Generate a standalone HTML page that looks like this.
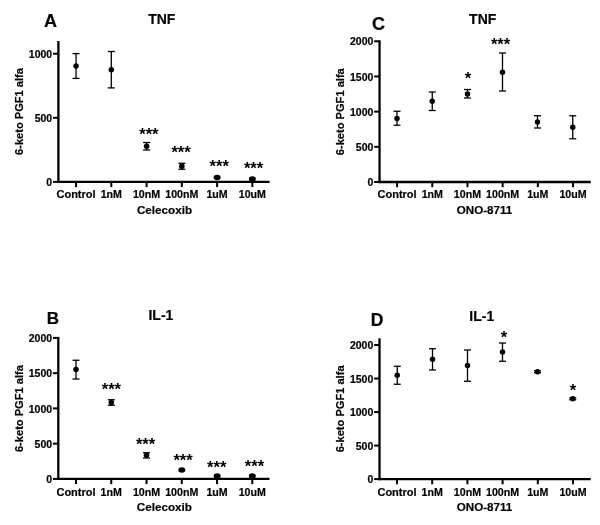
<!DOCTYPE html>
<html><head><meta charset="utf-8"><title>Figure</title>
<style>
html,body{margin:0;padding:0;background:#fff;}
svg{display:block;}
text{font-family:"Liberation Sans", Arial, Helvetica, sans-serif;fill:#000;stroke:#000;stroke-width:0.2px;}
</style></head><body>
<svg width="600" height="525" viewBox="0 0 600 525">
<defs><filter id="soft" x="0" y="0" width="600" height="525" filterUnits="userSpaceOnUse"><feGaussianBlur stdDeviation="0.35"/></filter></defs>
<rect width="600" height="525" fill="#fff"/>
<g filter="url(#soft)">
<line x1="58.4" y1="41.0" x2="58.4" y2="183.0" stroke="#000" stroke-width="2.3" stroke-linecap="butt"/>
<line x1="57.3" y1="181.9" x2="269.59999999999997" y2="181.9" stroke="#000" stroke-width="2.3" stroke-linecap="butt"/>
<line x1="53.0" y1="181.9" x2="58.4" y2="181.9" stroke="#000" stroke-width="2.0" stroke-linecap="butt"/>
<text x="52.199999999999996" y="186.0" font-size="10.5" text-anchor="end" font-weight="bold">0</text>
<line x1="53.0" y1="117.8" x2="58.4" y2="117.8" stroke="#000" stroke-width="2.0" stroke-linecap="butt"/>
<text x="52.199999999999996" y="121.89999999999999" font-size="10.5" text-anchor="end" font-weight="bold">500</text>
<line x1="53.0" y1="53.7" x2="58.4" y2="53.7" stroke="#000" stroke-width="2.0" stroke-linecap="butt"/>
<text x="52.199999999999996" y="57.800000000000004" font-size="10.5" text-anchor="end" font-weight="bold">1000</text>
<line x1="76.05" y1="181.9" x2="76.05" y2="187.1" stroke="#000" stroke-width="2.0" stroke-linecap="butt"/>
<text x="76.05" y="198.35" font-size="11.0" text-anchor="middle" font-weight="bold">Control</text>
<line x1="111.31" y1="181.9" x2="111.31" y2="187.1" stroke="#000" stroke-width="2.0" stroke-linecap="butt"/>
<text x="111.31" y="198.35" font-size="10.65" text-anchor="middle" font-weight="bold">1nM</text>
<line x1="146.57" y1="181.9" x2="146.57" y2="187.1" stroke="#000" stroke-width="2.0" stroke-linecap="butt"/>
<text x="146.57" y="198.35" font-size="10.65" text-anchor="middle" font-weight="bold">10nM</text>
<line x1="181.82999999999998" y1="181.9" x2="181.82999999999998" y2="187.1" stroke="#000" stroke-width="2.0" stroke-linecap="butt"/>
<text x="181.82999999999998" y="198.35" font-size="10.65" text-anchor="middle" font-weight="bold">100nM</text>
<line x1="217.08999999999997" y1="181.9" x2="217.08999999999997" y2="187.1" stroke="#000" stroke-width="2.0" stroke-linecap="butt"/>
<text x="217.08999999999997" y="198.35" font-size="10.65" text-anchor="middle" font-weight="bold">1uM</text>
<line x1="252.34999999999997" y1="181.9" x2="252.34999999999997" y2="187.1" stroke="#000" stroke-width="2.0" stroke-linecap="butt"/>
<text x="252.34999999999997" y="198.35" font-size="10.65" text-anchor="middle" font-weight="bold">10uM</text>
<text x="164.5" y="213.9" font-size="11.7" text-anchor="middle" font-weight="bold">Celecoxib</text>
<text transform="translate(22.6,111.5) rotate(-90)" font-size="11.1" font-weight="bold" text-anchor="middle">6-keto PGF1 alfa</text>
<line x1="76.05" y1="53.6" x2="76.05" y2="78.4" stroke="#000" stroke-width="1.3" stroke-linecap="butt"/>
<line x1="72.55" y1="53.6" x2="79.55" y2="53.6" stroke="#000" stroke-width="1.3" stroke-linecap="butt"/>
<line x1="72.55" y1="78.4" x2="79.55" y2="78.4" stroke="#000" stroke-width="1.3" stroke-linecap="butt"/>
<circle cx="76.05" cy="66" r="2.75" fill="#000"/>
<line x1="111.3" y1="51.5" x2="111.3" y2="87.9" stroke="#000" stroke-width="1.3" stroke-linecap="butt"/>
<line x1="107.8" y1="51.5" x2="114.8" y2="51.5" stroke="#000" stroke-width="1.3" stroke-linecap="butt"/>
<line x1="107.8" y1="87.9" x2="114.8" y2="87.9" stroke="#000" stroke-width="1.3" stroke-linecap="butt"/>
<circle cx="111.3" cy="69.75" r="2.75" fill="#000"/>
<line x1="146.6" y1="142.5" x2="146.6" y2="150" stroke="#000" stroke-width="1.3" stroke-linecap="butt"/>
<line x1="143.1" y1="142.5" x2="150.1" y2="142.5" stroke="#000" stroke-width="1.3" stroke-linecap="butt"/>
<line x1="143.1" y1="150" x2="150.1" y2="150" stroke="#000" stroke-width="1.3" stroke-linecap="butt"/>
<circle cx="146.6" cy="146.25" r="2.75" fill="#000"/>
<line x1="181.85" y1="163.25" x2="181.85" y2="169.25" stroke="#000" stroke-width="1.3" stroke-linecap="butt"/>
<line x1="178.35" y1="163.25" x2="185.35" y2="163.25" stroke="#000" stroke-width="1.3" stroke-linecap="butt"/>
<line x1="178.35" y1="169.25" x2="185.35" y2="169.25" stroke="#000" stroke-width="1.3" stroke-linecap="butt"/>
<circle cx="181.85" cy="166.25" r="2.75" fill="#000"/>
<ellipse cx="217.1" cy="177.4" rx="3.5" ry="2.75" fill="#000"/>
<ellipse cx="252.35" cy="178.9" rx="3.5" ry="2.75" fill="#000"/>
<line x1="58.3" y1="336.9" x2="58.3" y2="480.0" stroke="#000" stroke-width="2.3" stroke-linecap="butt"/>
<line x1="57.199999999999996" y1="478.9" x2="269.5" y2="478.9" stroke="#000" stroke-width="2.3" stroke-linecap="butt"/>
<line x1="52.9" y1="478.9" x2="58.3" y2="478.9" stroke="#000" stroke-width="2.0" stroke-linecap="butt"/>
<text x="52.099999999999994" y="483.0" font-size="10.5" text-anchor="end" font-weight="bold">0</text>
<line x1="52.9" y1="443.65" x2="58.3" y2="443.65" stroke="#000" stroke-width="2.0" stroke-linecap="butt"/>
<text x="52.099999999999994" y="447.75" font-size="10.5" text-anchor="end" font-weight="bold">500</text>
<line x1="52.9" y1="408.4" x2="58.3" y2="408.4" stroke="#000" stroke-width="2.0" stroke-linecap="butt"/>
<text x="52.099999999999994" y="412.5" font-size="10.5" text-anchor="end" font-weight="bold">1000</text>
<line x1="52.9" y1="373.15" x2="58.3" y2="373.15" stroke="#000" stroke-width="2.0" stroke-linecap="butt"/>
<text x="52.099999999999994" y="377.25" font-size="10.5" text-anchor="end" font-weight="bold">1500</text>
<line x1="52.9" y1="337.9" x2="58.3" y2="337.9" stroke="#000" stroke-width="2.0" stroke-linecap="butt"/>
<text x="52.099999999999994" y="342.0" font-size="10.5" text-anchor="end" font-weight="bold">2000</text>
<line x1="76.0" y1="478.9" x2="76.0" y2="484.09999999999997" stroke="#000" stroke-width="2.0" stroke-linecap="butt"/>
<text x="76.0" y="495.6" font-size="11.0" text-anchor="middle" font-weight="bold">Control</text>
<line x1="111.25999999999999" y1="478.9" x2="111.25999999999999" y2="484.09999999999997" stroke="#000" stroke-width="2.0" stroke-linecap="butt"/>
<text x="111.25999999999999" y="495.6" font-size="10.65" text-anchor="middle" font-weight="bold">1nM</text>
<line x1="146.51999999999998" y1="478.9" x2="146.51999999999998" y2="484.09999999999997" stroke="#000" stroke-width="2.0" stroke-linecap="butt"/>
<text x="146.51999999999998" y="495.6" font-size="10.65" text-anchor="middle" font-weight="bold">10nM</text>
<line x1="181.78" y1="478.9" x2="181.78" y2="484.09999999999997" stroke="#000" stroke-width="2.0" stroke-linecap="butt"/>
<text x="181.78" y="495.6" font-size="10.65" text-anchor="middle" font-weight="bold">100nM</text>
<line x1="217.04" y1="478.9" x2="217.04" y2="484.09999999999997" stroke="#000" stroke-width="2.0" stroke-linecap="butt"/>
<text x="217.04" y="495.6" font-size="10.65" text-anchor="middle" font-weight="bold">1uM</text>
<line x1="252.29999999999998" y1="478.9" x2="252.29999999999998" y2="484.09999999999997" stroke="#000" stroke-width="2.0" stroke-linecap="butt"/>
<text x="252.29999999999998" y="495.6" font-size="10.65" text-anchor="middle" font-weight="bold">10uM</text>
<text x="164.39999999999998" y="511.2" font-size="11.7" text-anchor="middle" font-weight="bold">Celecoxib</text>
<text transform="translate(22.5,408.6) rotate(-90)" font-size="11.1" font-weight="bold" text-anchor="middle">6-keto PGF1 alfa</text>
<line x1="76.0" y1="360.25" x2="76.0" y2="379" stroke="#000" stroke-width="1.3" stroke-linecap="butt"/>
<line x1="72.5" y1="360.25" x2="79.5" y2="360.25" stroke="#000" stroke-width="1.3" stroke-linecap="butt"/>
<line x1="72.5" y1="379" x2="79.5" y2="379" stroke="#000" stroke-width="1.3" stroke-linecap="butt"/>
<circle cx="76.0" cy="369.5" r="2.75" fill="#000"/>
<line x1="111.3" y1="399.75" x2="111.3" y2="405.25" stroke="#000" stroke-width="1.3" stroke-linecap="butt"/>
<line x1="107.8" y1="399.75" x2="114.8" y2="399.75" stroke="#000" stroke-width="1.3" stroke-linecap="butt"/>
<line x1="107.8" y1="405.25" x2="114.8" y2="405.25" stroke="#000" stroke-width="1.3" stroke-linecap="butt"/>
<circle cx="111.3" cy="402.5" r="2.75" fill="#000"/>
<line x1="146.5" y1="452.75" x2="146.5" y2="458" stroke="#000" stroke-width="1.3" stroke-linecap="butt"/>
<line x1="143.0" y1="452.75" x2="150.0" y2="452.75" stroke="#000" stroke-width="1.3" stroke-linecap="butt"/>
<line x1="143.0" y1="458" x2="150.0" y2="458" stroke="#000" stroke-width="1.3" stroke-linecap="butt"/>
<circle cx="146.5" cy="455.25" r="2.75" fill="#000"/>
<ellipse cx="181.8" cy="470" rx="3.5" ry="2.75" fill="#000"/>
<ellipse cx="217.2" cy="475.9" rx="3.5" ry="2.75" fill="#000"/>
<ellipse cx="252.3" cy="475.9" rx="3.5" ry="2.75" fill="#000"/>
<line x1="379.55" y1="40.3" x2="379.55" y2="183.1" stroke="#000" stroke-width="2.3" stroke-linecap="butt"/>
<line x1="378.45" y1="182" x2="590.75" y2="182" stroke="#000" stroke-width="2.3" stroke-linecap="butt"/>
<line x1="374.15000000000003" y1="182.0" x2="379.55" y2="182.0" stroke="#000" stroke-width="2.0" stroke-linecap="butt"/>
<text x="373.35" y="186.1" font-size="10.5" text-anchor="end" font-weight="bold">0</text>
<line x1="374.15000000000003" y1="146.82" x2="379.55" y2="146.82" stroke="#000" stroke-width="2.0" stroke-linecap="butt"/>
<text x="373.35" y="150.92" font-size="10.5" text-anchor="end" font-weight="bold">500</text>
<line x1="374.15000000000003" y1="111.64" x2="379.55" y2="111.64" stroke="#000" stroke-width="2.0" stroke-linecap="butt"/>
<text x="373.35" y="115.74" font-size="10.5" text-anchor="end" font-weight="bold">1000</text>
<line x1="374.15000000000003" y1="76.46000000000001" x2="379.55" y2="76.46000000000001" stroke="#000" stroke-width="2.0" stroke-linecap="butt"/>
<text x="373.35" y="80.56" font-size="10.5" text-anchor="end" font-weight="bold">1500</text>
<line x1="374.15000000000003" y1="41.28" x2="379.55" y2="41.28" stroke="#000" stroke-width="2.0" stroke-linecap="butt"/>
<text x="373.35" y="45.38" font-size="10.5" text-anchor="end" font-weight="bold">2000</text>
<line x1="397.1" y1="182" x2="397.1" y2="187.2" stroke="#000" stroke-width="2.0" stroke-linecap="butt"/>
<text x="397.1" y="198.35" font-size="11.0" text-anchor="middle" font-weight="bold">Control</text>
<line x1="432.28000000000003" y1="182" x2="432.28000000000003" y2="187.2" stroke="#000" stroke-width="2.0" stroke-linecap="butt"/>
<text x="432.28000000000003" y="198.35" font-size="10.65" text-anchor="middle" font-weight="bold">1nM</text>
<line x1="467.46000000000004" y1="182" x2="467.46000000000004" y2="187.2" stroke="#000" stroke-width="2.0" stroke-linecap="butt"/>
<text x="467.46000000000004" y="198.35" font-size="10.65" text-anchor="middle" font-weight="bold">10nM</text>
<line x1="502.64" y1="182" x2="502.64" y2="187.2" stroke="#000" stroke-width="2.0" stroke-linecap="butt"/>
<text x="502.64" y="198.35" font-size="10.65" text-anchor="middle" font-weight="bold">100nM</text>
<line x1="537.82" y1="182" x2="537.82" y2="187.2" stroke="#000" stroke-width="2.0" stroke-linecap="butt"/>
<text x="537.82" y="198.35" font-size="10.65" text-anchor="middle" font-weight="bold">1uM</text>
<line x1="573.0" y1="182" x2="573.0" y2="187.2" stroke="#000" stroke-width="2.0" stroke-linecap="butt"/>
<text x="573.0" y="198.35" font-size="10.65" text-anchor="middle" font-weight="bold">10uM</text>
<text x="484.55" y="213.9" font-size="11.6" text-anchor="middle" font-weight="bold">ONO-8711</text>
<text transform="translate(344.2,111.7) rotate(-90)" font-size="11.1" font-weight="bold" text-anchor="middle">6-keto PGF1 alfa</text>
<line x1="397" y1="111.25" x2="397" y2="125.25" stroke="#000" stroke-width="1.3" stroke-linecap="butt"/>
<line x1="393.5" y1="111.25" x2="400.5" y2="111.25" stroke="#000" stroke-width="1.3" stroke-linecap="butt"/>
<line x1="393.5" y1="125.25" x2="400.5" y2="125.25" stroke="#000" stroke-width="1.3" stroke-linecap="butt"/>
<circle cx="397" cy="118.5" r="2.75" fill="#000"/>
<line x1="432.25" y1="92" x2="432.25" y2="110.5" stroke="#000" stroke-width="1.3" stroke-linecap="butt"/>
<line x1="428.75" y1="92" x2="435.75" y2="92" stroke="#000" stroke-width="1.3" stroke-linecap="butt"/>
<line x1="428.75" y1="110.5" x2="435.75" y2="110.5" stroke="#000" stroke-width="1.3" stroke-linecap="butt"/>
<circle cx="432.25" cy="101.25" r="2.75" fill="#000"/>
<line x1="467.5" y1="89.5" x2="467.5" y2="98" stroke="#000" stroke-width="1.3" stroke-linecap="butt"/>
<line x1="464.0" y1="89.5" x2="471.0" y2="89.5" stroke="#000" stroke-width="1.3" stroke-linecap="butt"/>
<line x1="464.0" y1="98" x2="471.0" y2="98" stroke="#000" stroke-width="1.3" stroke-linecap="butt"/>
<circle cx="467.5" cy="94" r="2.75" fill="#000"/>
<line x1="502.5" y1="53" x2="502.5" y2="91" stroke="#000" stroke-width="1.3" stroke-linecap="butt"/>
<line x1="499.0" y1="53" x2="506.0" y2="53" stroke="#000" stroke-width="1.3" stroke-linecap="butt"/>
<line x1="499.0" y1="91" x2="506.0" y2="91" stroke="#000" stroke-width="1.3" stroke-linecap="butt"/>
<circle cx="502.5" cy="72.25" r="2.75" fill="#000"/>
<line x1="537.5" y1="115.75" x2="537.5" y2="128" stroke="#000" stroke-width="1.3" stroke-linecap="butt"/>
<line x1="534.0" y1="115.75" x2="541.0" y2="115.75" stroke="#000" stroke-width="1.3" stroke-linecap="butt"/>
<line x1="534.0" y1="128" x2="541.0" y2="128" stroke="#000" stroke-width="1.3" stroke-linecap="butt"/>
<circle cx="537.5" cy="122" r="2.75" fill="#000"/>
<line x1="572.75" y1="115.75" x2="572.75" y2="138.75" stroke="#000" stroke-width="1.3" stroke-linecap="butt"/>
<line x1="569.25" y1="115.75" x2="576.25" y2="115.75" stroke="#000" stroke-width="1.3" stroke-linecap="butt"/>
<line x1="569.25" y1="138.75" x2="576.25" y2="138.75" stroke="#000" stroke-width="1.3" stroke-linecap="butt"/>
<circle cx="572.75" cy="127.25" r="2.75" fill="#000"/>
<line x1="379.5" y1="338.3" x2="379.5" y2="480.20000000000005" stroke="#000" stroke-width="2.3" stroke-linecap="butt"/>
<line x1="378.4" y1="479.1" x2="590.7" y2="479.1" stroke="#000" stroke-width="2.3" stroke-linecap="butt"/>
<line x1="374.1" y1="479.1" x2="379.5" y2="479.1" stroke="#000" stroke-width="2.0" stroke-linecap="butt"/>
<text x="373.3" y="483.20000000000005" font-size="10.5" text-anchor="end" font-weight="bold">0</text>
<line x1="374.1" y1="445.58000000000004" x2="379.5" y2="445.58000000000004" stroke="#000" stroke-width="2.0" stroke-linecap="butt"/>
<text x="373.3" y="449.68000000000006" font-size="10.5" text-anchor="end" font-weight="bold">500</text>
<line x1="374.1" y1="412.06" x2="379.5" y2="412.06" stroke="#000" stroke-width="2.0" stroke-linecap="butt"/>
<text x="373.3" y="416.16" font-size="10.5" text-anchor="end" font-weight="bold">1000</text>
<line x1="374.1" y1="378.54" x2="379.5" y2="378.54" stroke="#000" stroke-width="2.0" stroke-linecap="butt"/>
<text x="373.3" y="382.64000000000004" font-size="10.5" text-anchor="end" font-weight="bold">1500</text>
<line x1="374.1" y1="345.02" x2="379.5" y2="345.02" stroke="#000" stroke-width="2.0" stroke-linecap="butt"/>
<text x="373.3" y="349.12" font-size="10.5" text-anchor="end" font-weight="bold">2000</text>
<line x1="397.0" y1="479.1" x2="397.0" y2="484.3" stroke="#000" stroke-width="2.0" stroke-linecap="butt"/>
<text x="397.0" y="495.6" font-size="11.0" text-anchor="middle" font-weight="bold">Control</text>
<line x1="432.2" y1="479.1" x2="432.2" y2="484.3" stroke="#000" stroke-width="2.0" stroke-linecap="butt"/>
<text x="432.2" y="495.6" font-size="10.65" text-anchor="middle" font-weight="bold">1nM</text>
<line x1="467.4" y1="479.1" x2="467.4" y2="484.3" stroke="#000" stroke-width="2.0" stroke-linecap="butt"/>
<text x="467.4" y="495.6" font-size="10.65" text-anchor="middle" font-weight="bold">10nM</text>
<line x1="502.6" y1="479.1" x2="502.6" y2="484.3" stroke="#000" stroke-width="2.0" stroke-linecap="butt"/>
<text x="502.6" y="495.6" font-size="10.65" text-anchor="middle" font-weight="bold">100nM</text>
<line x1="537.8" y1="479.1" x2="537.8" y2="484.3" stroke="#000" stroke-width="2.0" stroke-linecap="butt"/>
<text x="537.8" y="495.6" font-size="10.65" text-anchor="middle" font-weight="bold">1uM</text>
<line x1="573.0" y1="479.1" x2="573.0" y2="484.3" stroke="#000" stroke-width="2.0" stroke-linecap="butt"/>
<text x="573.0" y="495.6" font-size="10.65" text-anchor="middle" font-weight="bold">10uM</text>
<text x="484.5" y="511.4" font-size="11.6" text-anchor="middle" font-weight="bold">ONO-8711</text>
<text transform="translate(344.2,408.9) rotate(-90)" font-size="11.1" font-weight="bold" text-anchor="middle">6-keto PGF1 alfa</text>
<line x1="397.25" y1="366.25" x2="397.25" y2="384.25" stroke="#000" stroke-width="1.3" stroke-linecap="butt"/>
<line x1="393.75" y1="366.25" x2="400.75" y2="366.25" stroke="#000" stroke-width="1.3" stroke-linecap="butt"/>
<line x1="393.75" y1="384.25" x2="400.75" y2="384.25" stroke="#000" stroke-width="1.3" stroke-linecap="butt"/>
<circle cx="397.25" cy="375.25" r="2.75" fill="#000"/>
<line x1="432.5" y1="348.75" x2="432.5" y2="370" stroke="#000" stroke-width="1.3" stroke-linecap="butt"/>
<line x1="429.0" y1="348.75" x2="436.0" y2="348.75" stroke="#000" stroke-width="1.3" stroke-linecap="butt"/>
<line x1="429.0" y1="370" x2="436.0" y2="370" stroke="#000" stroke-width="1.3" stroke-linecap="butt"/>
<circle cx="432.5" cy="359.25" r="2.75" fill="#000"/>
<line x1="467.5" y1="350" x2="467.5" y2="381.25" stroke="#000" stroke-width="1.3" stroke-linecap="butt"/>
<line x1="464.0" y1="350" x2="471.0" y2="350" stroke="#000" stroke-width="1.3" stroke-linecap="butt"/>
<line x1="464.0" y1="381.25" x2="471.0" y2="381.25" stroke="#000" stroke-width="1.3" stroke-linecap="butt"/>
<circle cx="467.5" cy="365.5" r="2.75" fill="#000"/>
<line x1="502.5" y1="343" x2="502.5" y2="361.25" stroke="#000" stroke-width="1.3" stroke-linecap="butt"/>
<line x1="499.0" y1="343" x2="506.0" y2="343" stroke="#000" stroke-width="1.3" stroke-linecap="butt"/>
<line x1="499.0" y1="361.25" x2="506.0" y2="361.25" stroke="#000" stroke-width="1.3" stroke-linecap="butt"/>
<circle cx="502.5" cy="352" r="2.75" fill="#000"/>
<line x1="537.5" y1="370.75" x2="537.5" y2="372.75" stroke="#000" stroke-width="1.3" stroke-linecap="butt"/>
<line x1="534.0" y1="370.75" x2="541.0" y2="370.75" stroke="#000" stroke-width="1.3" stroke-linecap="butt"/>
<line x1="534.0" y1="372.75" x2="541.0" y2="372.75" stroke="#000" stroke-width="1.3" stroke-linecap="butt"/>
<circle cx="537.5" cy="371.75" r="2.75" fill="#000"/>
<line x1="572.75" y1="397.75" x2="572.75" y2="399.75" stroke="#000" stroke-width="1.3" stroke-linecap="butt"/>
<line x1="569.25" y1="397.75" x2="576.25" y2="397.75" stroke="#000" stroke-width="1.3" stroke-linecap="butt"/>
<line x1="569.25" y1="399.75" x2="576.25" y2="399.75" stroke="#000" stroke-width="1.3" stroke-linecap="butt"/>
<circle cx="572.75" cy="398.75" r="2.75" fill="#000"/>
<text x="148.9" y="139.65" font-size="16.6" text-anchor="middle" font-weight="bold" style="stroke:none">***</text>
<text x="181.1" y="157.65" font-size="16.6" text-anchor="middle" font-weight="bold" style="stroke:none">***</text>
<text x="219.2" y="171.9" font-size="16.6" text-anchor="middle" font-weight="bold" style="stroke:none">***</text>
<text x="253.6" y="173.9" font-size="16.6" text-anchor="middle" font-weight="bold" style="stroke:none">***</text>
<text x="111.4" y="395.15" font-size="16.6" text-anchor="middle" font-weight="bold" style="stroke:none">***</text>
<text x="145.6" y="449.9" font-size="16.6" text-anchor="middle" font-weight="bold" style="stroke:none">***</text>
<text x="183.1" y="466.2" font-size="16.6" text-anchor="middle" font-weight="bold" style="stroke:none">***</text>
<text x="216.7" y="473.0" font-size="16.6" text-anchor="middle" font-weight="bold" style="stroke:none">***</text>
<text x="254.5" y="472.2" font-size="16.6" text-anchor="middle" font-weight="bold" style="stroke:none">***</text>
<text x="467.9" y="84.30000000000001" font-size="16.6" text-anchor="middle" font-weight="bold" style="stroke:none">*</text>
<text x="500.6" y="50.4" font-size="16.6" text-anchor="middle" font-weight="bold" style="stroke:none">***</text>
<text x="504" y="343.4" font-size="16.6" text-anchor="middle" font-weight="bold" style="stroke:none">*</text>
<text x="573.1" y="395.9" font-size="16.6" text-anchor="middle" font-weight="bold" style="stroke:none">*</text>
<text x="161.8" y="23.5" font-size="14" text-anchor="middle" font-weight="bold">TNF</text>
<text x="482.7" y="24" font-size="14" text-anchor="middle" font-weight="bold">TNF</text>
<text x="160.9" y="320.4" font-size="14" text-anchor="middle" font-weight="bold">IL-1</text>
<text x="481.8" y="320.8" font-size="14" text-anchor="middle" font-weight="bold">IL-1</text>
<text x="50.5" y="26.9" font-size="18" text-anchor="middle" font-weight="bold">A</text>
<text x="52.9" y="324" font-size="17" text-anchor="middle" font-weight="bold">B</text>
<text x="378.4" y="30.4" font-size="18" text-anchor="middle" font-weight="bold">C</text>
<text x="377.0" y="325.5" font-size="17.5" text-anchor="middle" font-weight="bold">D</text>
</g>
</svg>
</body></html>
